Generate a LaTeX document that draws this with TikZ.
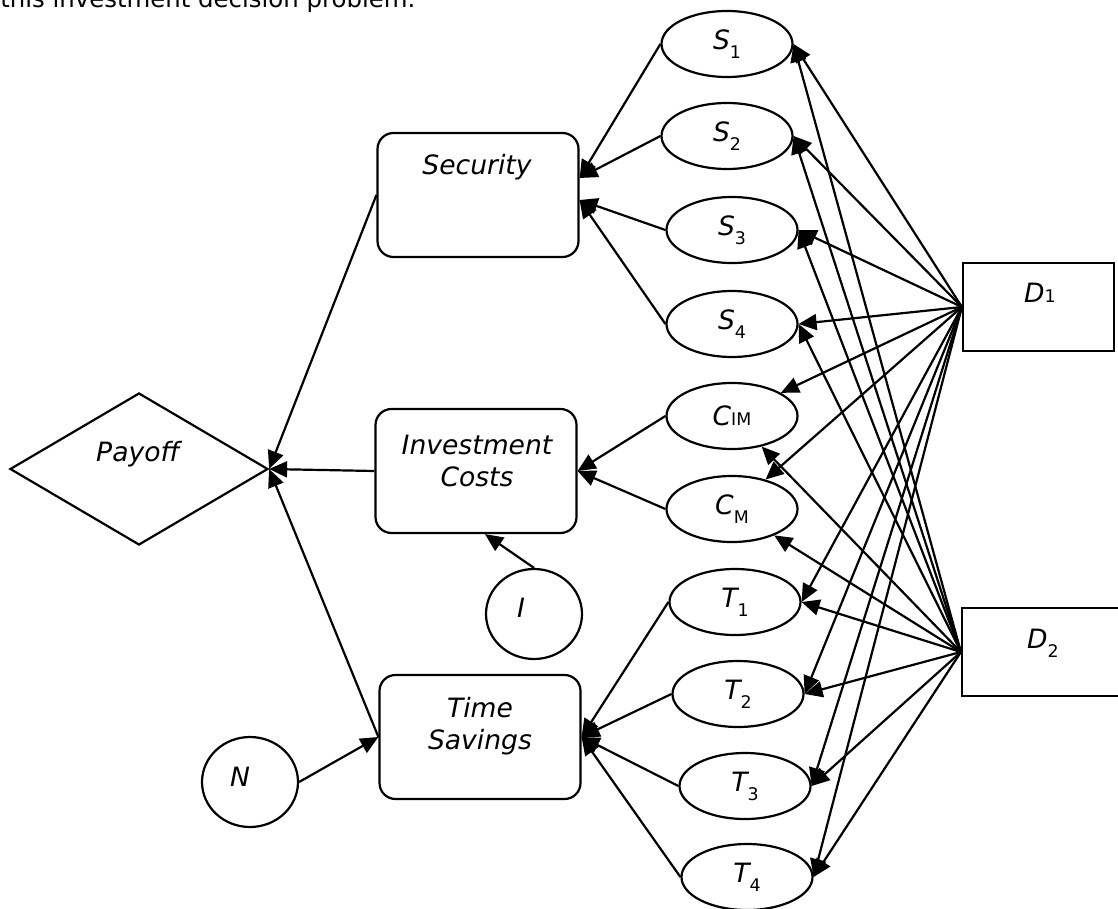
\documentclass[tikz,border=0pt]{standalone}
\usepackage{fontspec}
\setmainfont{DejaVu Sans}
\usetikzlibrary{arrows.meta,positioning,shapes.geometric,calc}
\newcommand{\labfont}{\fontsize{13.3}{16}\selectfont\itshape}
\newcommand{\lsub}[1]{\raisebox{-4.5pt}{\fontsize{8.7}{9}\selectfont\upshape #1}}
\newcommand{\nsub}[1]{{\fontsize{8.7}{9}\selectfont\upshape #1}}
\tikzset{
  base/.style={draw, line width=1.1pt, inner sep=0pt},
  dec/.style={base, rectangle, rounded corners=8pt, minimum width=100.5pt, minimum height=62pt},
  util/.style={base, diamond, minimum width=129pt, minimum height=76pt},
  chance/.style={base, ellipse, minimum width=65.5pt, minimum height=33pt, font=\labfont},
  aux/.style={base, ellipse, minimum width=48pt, minimum height=45pt},
  choice/.style={base, rectangle, minimum height=44pt},
  lbl/.style={font=\labfont, align=center, inner sep=0pt},
  pre/.style={-{Triangle[length=9pt,width=8pt]}, line width=1.1pt},
}

\begin{document}
\begin{tikzpicture}[x=0.5pt,y=-0.5pt]
\useasboundingbox (0,0) rectangle (1118,909);
\node[anchor=base west, inner sep=0pt, font=\fontsize{12.2}{14}\selectfont] (cap) at (0,8) {this investment decision problem.};
% value node and the three criteria
\node[util] (pay) at (139,469) {};
\node[lbl] (paylbl) at (138,454) {Payoff};
\node[dec] (sec) at (478,195) {};
\node[lbl] (seclbl) at (477,167) {Security};
\node[dec] (inv) at (476,471) {};
\node[lbl] (invlbl) at (477,461) {Investment\\Costs};
\node[dec] (tsv) at (480,737) {};
\node[lbl] (tsvlbl) at (480,726) {Time\\Savings};
\node[aux] (ii) at (534,614) {};
\node[lbl] (iilbl) at (521,608) {I};
\node[aux] (nn) at (250,782) {};
\node[lbl] (nnlbl) at (240,777) {N};
\draw[pre] (sec.west) -- (pay.east);
\draw[pre] (inv.west) -- (pay.east);
\draw[pre] (tsv.west) -- (pay.east);
\draw[pre] (ii.north) -- ($(inv.south)+(9,0)$);
\draw[pre] (nn.east) -- (tsv.west);
% chance nodes
\node[chance] (s1) at (727,44) {S\lsub{1}};
\node[chance] (s2) at (727,136) {S\lsub{2}};
\node[chance] (s3) at (732,230) {S\lsub{3}};
\node[chance] (s4) at (732,324) {S\lsub{4}};
\node[chance] (cim) at (732,416) {C\nsub{IM}};
\node[chance] (cm) at (732,509) {C\lsub{M}};
\node[chance] (t1) at (735,602) {T\lsub{1}};
\node[chance] (t2) at (738,694) {T\lsub{2}};
\node[chance] (t3) at (745,786) {T\lsub{3}};
\node[chance] (t4) at (747,877) {T\lsub{4}};
\draw[pre] (s1.west) -- ($(sec.east)+(0,-17)$); \draw[pre] (s2.west) -- ($(sec.east)+(0,-17)$);
\draw[pre] (s3.west) -- ($(sec.east)+(0,5)$); \draw[pre] (s4.west) -- ($(sec.east)+(0,5)$);
\draw[pre] (cim.west) -- (inv.east); \draw[pre] (cm.west) -- (inv.east);
\draw[pre] (t1.west) -- (tsv.east); \draw[pre] (t2.west) -- (tsv.east);
\draw[pre] (t3.west) -- (tsv.east); \draw[pre] (t4.west) -- (tsv.east);
% decisions
\node[choice, minimum width=75.5pt] (d1) at (1038.5,307) {};
\node[lbl] (d1lbl) at (1040,293) {D\nsub{1}};
\node[choice, minimum width=81pt] (d2) at (1043,652) {};
\node[lbl] (d2lbl) at (1043,643) {D\lsub{2}};
\draw[pre] (d1.west) -- (s1.east); \draw[pre] (d2.west) -- (s1.east);
\draw[pre] (d1.west) -- (s2.east); \draw[pre] (d2.west) -- (s2.east);
\draw[pre] (d1.west) -- (s3.east); \draw[pre] (d2.west) -- (s3.east);
\draw[pre] (d1.west) -- (s4.east); \draw[pre] (d2.west) -- (s4.east);
\draw[pre] (d1.west) -- (cim); \draw[pre] (d2.west) -- (cim);
\draw[pre] (d1.west) -- (cm); \draw[pre] (d2.west) -- (cm);
\draw[pre] (d1.west) -- (t1.east); \draw[pre] (d2.west) -- (t1.east);
\draw[pre] (d1.west) -- (t2.east); \draw[pre] (d2.west) -- (t2.east);
\draw[pre] (d1.west) -- (t3.east); \draw[pre] (d2.west) -- (t3.east);
\draw[pre] (d1.west) -- (t4.east); \draw[pre] (d2.west) -- (t4.east);
\end{tikzpicture}
\end{document}
